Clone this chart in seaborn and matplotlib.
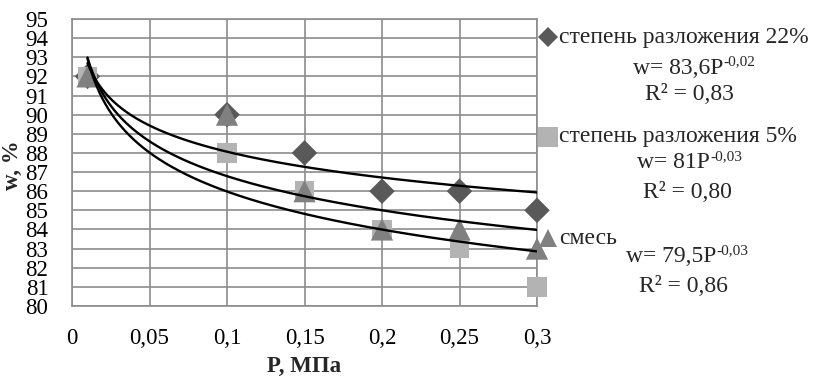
import numpy as np
import pandas as pd
import matplotlib
matplotlib.use("Agg")
import matplotlib.pyplot as plt
import seaborn as sns
from matplotlib.lines import Line2D

# ---- data ----
P = [0.01, 0.1, 0.15, 0.2, 0.25, 0.3]
w_22 = [92, 90, 88, 86, 86, 85]
w_5 = [92, 88, 86, 84, 83, 81]
w_mix = [92, 90, 86, 84, 84, 83]
series_names = ["степень разложения 22%", "степень разложения 5%", "смесь"]
eq_base = ["w= 83,6P", "w= 81P", "w= 79,5P"]
eq_exp = ["-0,02", "-0,03", "-0,03"]
r2_labels = ["R² = 0,83", "R² = 0,80", "R² = 0,86"]
x_ticks = [0, 0.05, 0.1, 0.15, 0.2, 0.25, 0.3]
x_ticklabels = ["0", "0,05", "0,1", "0,15", "0,2", "0,25", "0,3"]
y_ticks = list(range(80, 96))

colors = {"степень разложения 22%": "#595959",
          "степень разложения 5%": "#b3b3b3",
          "смесь": "#808080"}
markers = {"степень разложения 22%": "D",
           "степень разложения 5%": "s",
           "смесь": "^"}
sizes = {"степень разложения 22%": 13,
         "степень разложения 5%": 14,
         "смесь": 16}

df = pd.DataFrame({
    "P": P * 3,
    "w": w_22 + w_5 + w_mix,
    "series": [series_names[0]] * 6 + [series_names[1]] * 6 + [series_names[2]] * 6,
})

sns.set_style("white")
plt.rcParams["font.family"] = ["Liberation Serif", "DejaVu Serif"]

fig = plt.figure(figsize=(8.18, 3.81), dpi=100)
ax = fig.add_axes([72 / 818, 1 - 306 / 381, (537 - 72) / 818, (306 - 19) / 381])

grid_c = "#8c8c8c"
for name in series_names:
    sub = df[df["series"] == name]
    sns.scatterplot(data=sub, x="P", y="w", marker=markers[name], color=colors[name],
                    s=sizes[name] ** 2, edgecolor="none", linewidth=0, ax=ax,
                    zorder=3, clip_on=False, legend=False)

# power trendlines (fit in log-log space, like a spreadsheet power trendline)
xs = np.linspace(min(P), max(P), 300)
for name in series_names:
    sub = df[df["series"] == name]
    b, lna = np.polyfit(np.log(sub["P"]), np.log(sub["w"]), 1)
    ys = np.exp(lna) * xs ** b
    sns.lineplot(x=xs, y=ys, color="black", linewidth=1.7, ax=ax, zorder=4)

ax.set_xlim(0, 0.3)
ax.set_ylim(80, 95)
ax.set_xticks(x_ticks)
ax.set_xticklabels(x_ticklabels)
ax.set_yticks(y_ticks)
ax.grid(True, color=grid_c, linewidth=1.2)
ax.set_axisbelow(True)
for s in ax.spines.values():
    s.set_color(grid_c)
    s.set_linewidth(1.2)
ax.tick_params(axis="both", which="both", direction="out", length=5, width=1.2,
               color=grid_c, labelsize=16.5, labelcolor="black")
ax.tick_params(axis="x", pad=11)
ax.tick_params(axis="y", pad=12)
ax.set_xlabel("P, МПа", fontsize=16.5, fontweight="bold", labelpad=5)
ax.set_ylabel("w, %", fontsize=16.5, fontweight="bold")
ax.yaxis.set_label_coords((23 - 72) / 465, 0.49)

# custom legend on the right
H = 381
W = 818
# (marker/name y, equation y, R2 y, equation base right x, R2 centre x)
entries = [
    (37, 68, 95, 723, 689),
    (137, 163, 192, 710, 687),
    (238, 257, 286, 716, 683),
]
leg_sizes = {"степень разложения 22%": 10,
             "степень разложения 5%": 14,
             "смесь": 13}
for name, base, ex, r2, (y1, y2, y3, bx, cx) in zip(series_names, eq_base, eq_exp,
                                                    r2_labels, entries):
    fig.add_artist(Line2D([548 / W], [1 - y1 / H], marker=markers[name],
                          color=colors[name], markersize=leg_sizes[name],
                          markeredgewidth=0, linestyle="none",
                          transform=fig.transFigure))
    fig.text(559 / W, 1 - y1 / H, name, fontsize=17, ha="left", va="center")
    fig.text(bx / W, 1 - y2 / H, base, fontsize=17, ha="right", va="center")
    fig.text(bx / W, 1 - (y2 - 6) / H, ex, fontsize=11, ha="left", va="center")
    fig.text(cx / W, 1 - y3 / H, r2, fontsize=17, ha="center", va="center")

fig.savefig("out.png", dpi=100)
